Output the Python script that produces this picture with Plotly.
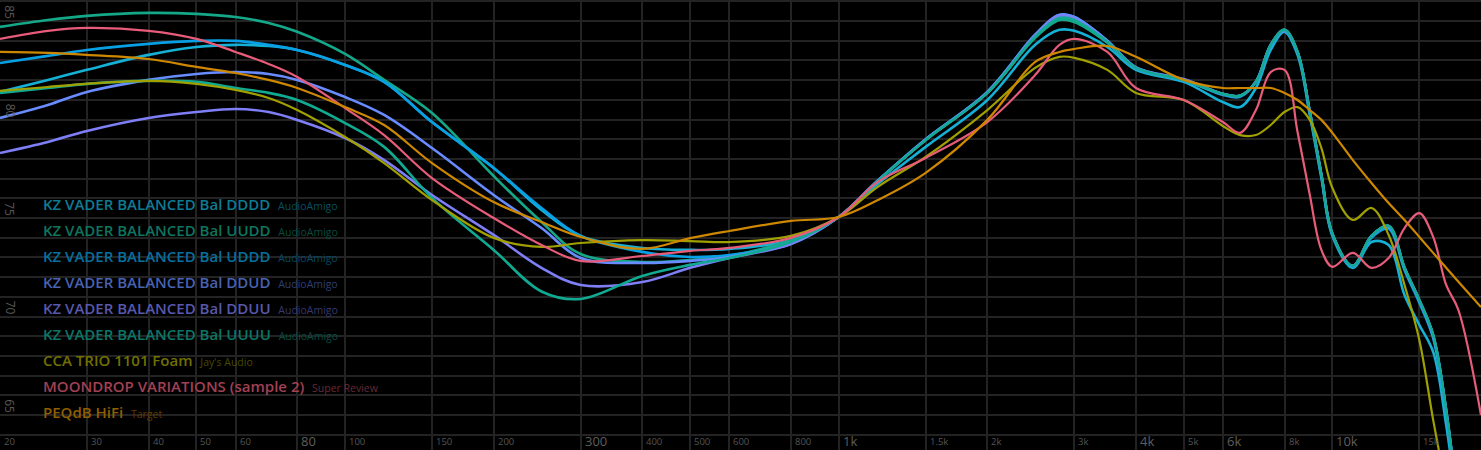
import math
import plotly.graph_objects as go

# ---------------- data ----------------
freqs = [20, 25, 30, 40, 50, 60, 70, 80, 100, 120, 150, 200, 250, 300, 400, 500, 600, 800, 1000,
         1200, 1500, 2000, 2500, 2800, 3000, 3500, 4000, 5000, 6000, 6500, 7000, 7500, 8000, 8500,
         9000, 9500, 10000, 11000, 12000, 13000, 14000, 15000, 16000, 17000, 18000, 20000]

kz_dddd = [81.40, 82.01, 82.52, 83.28, 83.68, 83.79, 83.73, 83.53, 82.77, 81.91, 79.87, 77.54, 75.41, 74.09, 73.48, 73.38, 73.43, 73.88, 75.05,
           76.73, 78.61, 80.99, 83.79, 84.55, 84.50, 83.68, 82.52, 81.91, 80.89, 80.63, 81.60, 83.53, 84.45, 83.28, 80.23, 77.03, 74.09,
           72.47, 73.78, 73.63, 71.09, 69.57, 68.20, 64.50, 59.9, 50.5]
kz_uudd = [84.70, 85.05, 85.26, 85.41, 85.36, 85.20, 84.90, 84.45, 83.33, 82.01, 80.33, 77.13, 74.80, 73.17, 72.77, 72.87, 73.07, 73.88, 75.05,
           76.88, 78.96, 81.35, 84.15, 85.05, 84.95, 83.90, 82.62, 82.01, 81.30, 81.20, 81.91, 83.79, 84.55, 83.43, 80.38, 77.18, 74.19,
           72.57, 74.09, 74.60, 72.47, 70.84, 69.06, 65.25, 60.2, 50.5]
kz_uddd = [82.87, 83.23, 83.53, 83.84, 83.99, 83.99, 83.79, 83.53, 82.77, 81.91, 79.87, 77.54, 75.51, 74.09, 73.28, 73.02, 73.12, 73.68, 75.05,
           76.90, 79.00, 81.40, 84.30, 85.30, 85.20, 84.00, 82.65, 82.01, 81.25, 81.15, 81.91, 83.75, 84.50, 83.40, 80.35, 77.15, 74.15,
           72.55, 74.00, 74.45, 72.35, 70.70, 68.90, 65.10, 60.1, 50.5]
kz_ddud = [80.08, 80.74, 81.40, 82.01, 82.31, 82.41, 82.31, 82.01, 81.14, 80.23, 78.55, 76.17, 74.49, 72.97, 72.72, 72.82, 73.02, 73.78, 75.05,
           76.90, 79.00, 81.40, 84.30, 85.32, 85.20, 84.00, 82.65, 82.05, 81.30, 81.20, 81.91, 83.79, 84.50, 83.40, 80.40, 77.20, 74.20,
           72.57, 74.09, 74.55, 72.45, 70.80, 69.00, 65.20, 60.2, 50.5]
kz_dduu = [78.30, 78.86, 79.42, 80.08, 80.38, 80.53, 80.38, 79.98, 79.06, 77.94, 76.17, 74.14, 72.47, 71.60, 71.75, 72.47, 72.97, 73.68, 75.05,
           76.88, 78.96, 81.35, 84.24, 85.25, 85.12, 83.94, 82.62, 82.01, 81.30, 81.20, 81.91, 83.79, 84.55, 83.43, 80.38, 77.18, 74.19,
           72.57, 74.09, 74.60, 72.47, 70.84, 69.06, 65.25, 60.2, 50.5]
kz_uuuu = [81.35, 81.60, 81.81, 81.96, 81.91, 81.60, 81.35, 80.99, 79.82, 78.61, 76.02, 73.38, 71.27, 70.89, 72.06, 72.62, 72.97, 73.78, 75.05,
           76.88, 78.96, 81.35, 84.20, 85.15, 85.05, 83.94, 82.62, 82.01, 81.30, 81.20, 81.91, 83.79, 84.55, 83.43, 80.38, 77.18, 74.19,
           72.57, 74.09, 74.60, 72.47, 70.84, 69.06, 65.25, 60.2, 50.5]
cca_trio = [81.45, 81.65, 81.81, 81.96, 81.81, 81.50, 81.09, 80.48, 79.11, 77.79, 75.91, 73.99, 73.53, 73.73, 73.88, 73.83, 73.78, 74.09, 75.05,
            76.58, 78.10, 80.48, 82.62, 83.18, 83.13, 82.52, 81.35, 80.99, 79.67, 79.21, 79.21, 79.72, 80.38, 80.63, 79.98, 78.55, 76.52,
            74.90, 75.51, 74.14, 71.60, 68.81, 64.75, 61.2, 57.6, 50.5]
moondrop = [84.09, 84.50, 84.65, 84.50, 84.09, 83.43, 82.82, 82.16, 80.58, 79.21, 77.03, 75.00, 73.63, 72.82, 73.07, 73.33, 73.48, 73.99, 75.05,
            76.83, 78.05, 79.87, 82.26, 83.79, 84.09, 83.43, 81.60, 80.99, 79.87, 79.32, 80.48, 82.41, 82.52, 79.37, 76.17, 73.38, 72.52,
            73.23, 72.47, 72.97, 74.49, 75.25, 74.04, 71.60, 70.33, 65.00]
peqdb_hifi = [83.43, 83.38, 83.28, 83.07, 82.67, 82.36, 82.01, 81.60, 80.63, 79.72, 77.79, 75.81, 74.80, 74.04, 73.43, 73.98, 74.34, 74.85, 75.05,
              75.91, 77.29, 79.98, 82.92, 83.43, 83.58, 83.73, 83.18, 82.01, 81.60, 81.60, 81.60, 81.60, 81.35, 80.99, 80.48, 79.98, 79.32,
              77.94, 76.78, 75.76, 74.90, 74.04, 73.23, 72.47, 71.76, 70.48]

names = ["KZ VADER BALANCED Bal DDDD", "KZ VADER BALANCED Bal UUDD", "KZ VADER BALANCED Bal UDDD",
         "KZ VADER BALANCED Bal DDUD", "KZ VADER BALANCED Bal DDUU", "KZ VADER BALANCED Bal UUUU",
         "CCA TRIO 1101 Foam", "MOONDROP VARIATIONS (sample 2)", "PEQdB HiFi"]
sources = ["AudioAmigo", "AudioAmigo", "AudioAmigo", "AudioAmigo", "AudioAmigo", "AudioAmigo",
           "Jay's Audio", "Super Review", "Target"]
series = [kz_dddd, kz_uudd, kz_uddd, kz_ddud, kz_dduu, kz_uuuu, cca_trio, moondrop, peqdb_hifi]

y_ticks = [65, 70, 75, 80, 85]
x_grid = [20, 30, 40, 50, 60, 80, 100, 150, 200, 300, 400, 500, 600, 800, 1000, 1500, 2000,
          3000, 4000, 5000, 6000, 8000, 10000, 15000]
x_labels = ["20", "30", "40", "50", "60", "80", "100", "150", "200", "300", "400", "500", "600", "800",
            "1k", "1.5k", "2k", "3k", "4k", "5k", "6k", "8k", "10k", "15k"]
x_major = ["80", "300", "1k", "4k", "6k", "10k"]

# ---------------- style ----------------
line_colors = ["rgb(20,176,214)", "rgb(20,168,136)", "rgb(8,160,228)", "rgb(104,140,255)",
               "rgb(126,126,246)", "rgb(16,170,146)", "rgb(160,160,0)", "rgb(232,92,122)",
               "rgb(206,136,0)"]
line_widths = [2.6, 2.6, 2.6, 2.6, 2.6, 2.6, 2.2, 2.2, 2.2]

W, H = 1481, 450
fig = go.Figure()
for vals, col, lw, nm in zip(series, line_colors, line_widths, names):
    fig.add_trace(go.Scatter(x=freqs, y=vals, mode="lines", name=nm,
                             line=dict(color=col, width=lw, shape="spline", smoothing=1.0),
                             hoverinfo="skip"))

def scale(rgb, f):
    parts = [int(p) for p in rgb[4:-1].split(",")]
    return "rgb(%d,%d,%d)" % tuple(int(p * f) for p in parts)

annotations = []
legend_y0 = 203.5
for i, (nm, src, col) in enumerate(zip(names, sources, line_colors)):
    yc = legend_y0 + 26 * i
    annotations.append(dict(
        xref="paper", yref="paper", x=41 / W, y=1 - yc / H, xanchor="left", yanchor="middle",
        showarrow=False,
        text=nm + "  <span style='font-size:10.5px;font-weight:400;color:%s'>%s</span>" % (scale(col, 0.45), src),
        font=dict(family="Open Sans", size=15, color=scale(col, 0.7), weight=600)))

for v in y_ticks:
    annotations.append(dict(xref="paper", yref="y", x=10 / W, y=v + 0.45, xanchor="center",
                            yanchor="middle", textangle=90, showarrow=False, text=str(v),
                            font=dict(family="Open Sans", size=12, color="#5a5a5a")))

for f, lab in zip(x_grid, x_labels):
    big = lab in x_major
    annotations.append(dict(xref="x", yref="paper", x=math.log10(f), y=1 - 441 / H,
                            xanchor="left", yanchor="middle", xshift=2, showarrow=False, text=lab,
                            font=dict(family="Open Sans", size=13 if big else 9.5,
                                      color="#5e5e5e" if big else "#555555")))

fig.update_layout(
    width=W, height=H, margin=dict(l=0, r=0, t=0, b=0),
    paper_bgcolor="#000000", plot_bgcolor="#000000", showlegend=False,
    annotations=annotations,
    xaxis=dict(type="log", range=[math.log10(20), math.log10(20000)], tickvals=x_grid,
               showticklabels=False, showgrid=True, gridcolor="#232323", gridwidth=2,
               zeroline=False, showline=False, ticks=""),
    yaxis=dict(range=[63.223, 86.066], tickvals=list(range(64, 87)), showticklabels=False,
               showgrid=True, gridcolor="#232323", gridwidth=2, zeroline=False,
               showline=False, ticks=""),
)
fig.write_html("out.html", config={"displayModeBar": False},
               post_script="document.body.style.margin='0';document.body.style.background='#000';")
